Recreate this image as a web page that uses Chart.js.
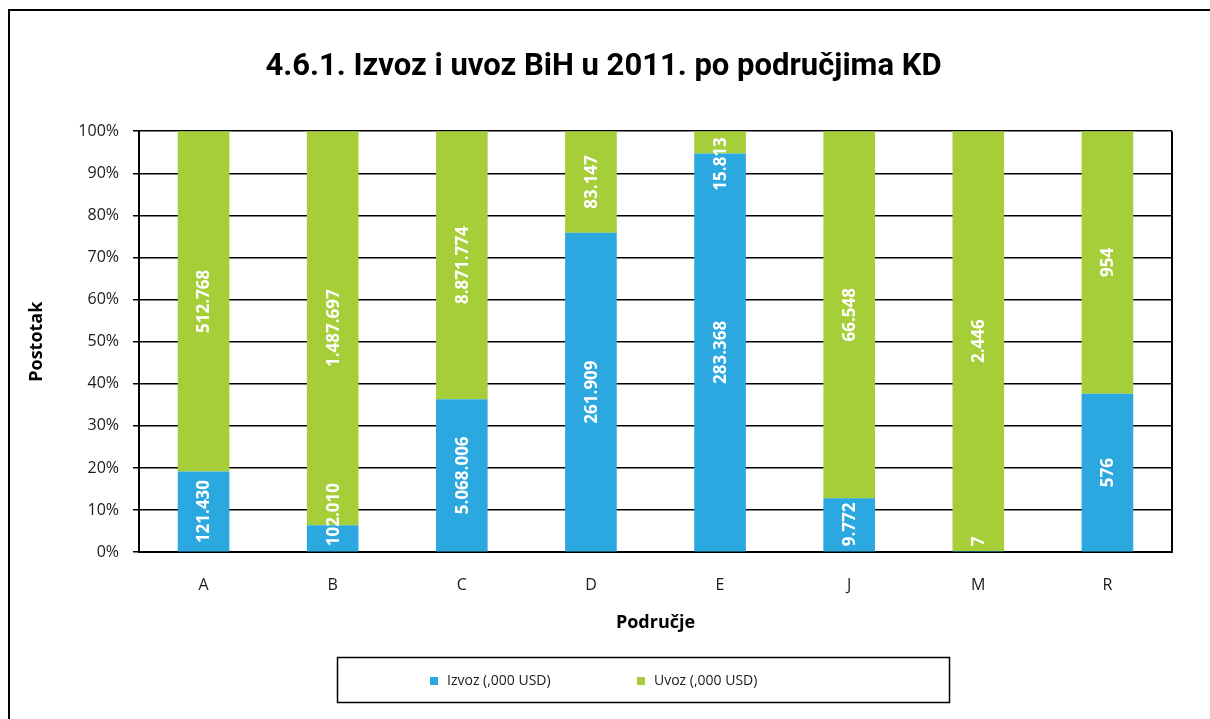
<!DOCTYPE html>
<html lang="bs">
<head>
<meta charset="UTF-8">
<title>4.6.1. Izvoz i uvoz BiH u 2011. po područjima KD</title>
<style>
    html, body { margin: 0; padding: 0; background: #fff; overflow: hidden; }
    .wrap { position: relative; width: 1210px; height: 719px; }
</style>
</head>
<body>
<div class="wrap"><canvas id="chart" width="1210" height="719"></canvas></div>
<script src="https://cdn.jsdelivr.net/npm/chart.js"></script>
<script>
    // podaci (,000 USD)
    const categories = ['A', 'B', 'C', 'D', 'E', 'J', 'M', 'R'];
    const izvoz = [121430, 102010, 5068006, 261909, 283368, 9772, 7, 576];
    const uvoz = [512768, 1487697, 8871774, 83147, 15813, 66548, 2446, 954];
    const seriesNames = ['Izvoz (,000 USD)', 'Uvoz (,000 USD)'];
    const seriesColors = ['#2CA8E0', '#A6CE39'];
    const chartTitle = '4.6.1. Izvoz i uvoz BiH u 2011. po područjima KD';

    const totals = categories.map((c, i) => izvoz[i] + uvoz[i]);
    const toPct = arr => arr.map((v, i) => v / totals[i] * 100);
    const fmt = v => String(v).replace(/\B(?=(\d{3})+(?!\d))/g, '.');

    // okvir, desna ivica grafika i okvir legende
    const framePlugin = {
        id: 'frame',
        beforeDraw(chart) {
            const ctx = chart.ctx;
            ctx.save();
            ctx.strokeStyle = '#000';
            ctx.lineWidth = 2;
            ctx.strokeRect(9, 10, 1400, 900);
            ctx.restore();
        },
        afterDraw(chart) {
            const ctx = chart.ctx;
            const a = chart.chartArea;
            ctx.save();
            ctx.strokeStyle = '#000';
            ctx.lineWidth = 2;
            ctx.beginPath();
            ctx.moveTo(a.right, a.top);
            ctx.lineTo(a.right, a.bottom);
            ctx.stroke();

            // legenda
            ctx.lineWidth = 1.5;
            ctx.strokeRect(337.5, 657.5, 612, 45);
            ctx.font = '14px "Open Sans"';
            ctx.textBaseline = 'middle';
            const itemX = [430, 637];
            seriesNames.forEach((name, i) => {
                ctx.fillStyle = seriesColors[i];
                ctx.fillRect(itemX[i], 677, 8, 8);
                ctx.fillStyle = '#1a1a1a';
                ctx.textAlign = 'left';
                ctx.fillText(name, itemX[i] + 17, 681);
            });
            ctx.restore();
        }
    };

    // vrijednosti na stupcima (rotirane)
    const barLabels = {
        id: 'barLabels',
        afterDatasetsDraw(chart) {
            const ctx = chart.ctx;
            const a = chart.chartArea;
            ctx.save();
            ctx.font = 'bold 17px "Open Sans"';
            ctx.fillStyle = '#fff';
            ctx.textAlign = 'center';
            ctx.textBaseline = 'middle';
            chart.data.datasets.forEach((ds, di) => {
                const meta = chart.getDatasetMeta(di);
                meta.data.forEach((bar, i) => {
                    const p = bar.getProps(['x', 'y', 'base'], true);
                    const text = fmt(ds.raw[i]);
                    const half = ctx.measureText(text).width / 2;
                    let cy = (p.y + p.base) / 2;
                    cy = Math.max(cy, a.top + 6 + half);
                    cy = Math.min(cy, a.bottom - 6 - half);
                    ctx.save();
                    ctx.translate(p.x + 1, cy);
                    ctx.rotate(-Math.PI / 2);
                    ctx.fillText(text, 0, 0);
                    ctx.restore();
                });
            });
            ctx.restore();
        }
    };

    new Chart(document.getElementById('chart'), {
        type: 'bar',
        data: {
            labels: categories,
            datasets: [
                { label: seriesNames[0], data: toPct(izvoz), raw: izvoz, backgroundColor: seriesColors[0] },
                { label: seriesNames[1], data: toPct(uvoz), raw: uvoz, backgroundColor: seriesColors[1] }
            ]
        },
        options: {
            responsive: false,
            animation: false,
            barPercentage: 0.4,
            categoryPercentage: 1,
            layout: { padding: { left: 35, right: 38, top: 0, bottom: 85 } },
            plugins: {
                legend: { display: false },
                tooltip: { enabled: false },
                title: {
                    display: true,
                    text: chartTitle,
                    color: '#000',
                    font: { family: 'Roboto', size: 31, weight: 'bold' },
                    padding: { top: 49, bottom: 45 }
                }
            },
            scales: {
                x: {
                    stacked: true,
                    grid: { display: false, drawTicks: false },
                    border: { display: true, color: '#000', width: 2 },
                    ticks: { color: '#1a1a1a', font: { family: 'Open Sans', size: 16 }, padding: 24 },
                    title: {
                        display: true,
                        text: 'Područje',
                        color: '#000',
                        font: { family: 'Open Sans', size: 18, weight: 'bold' },
                        padding: { top: -7, bottom: 0 }
                    }
                },
                y: {
                    stacked: true,
                    min: 0,
                    max: 100,
                    afterFit: s => { s.width = 104; },
                    grid: { color: '#000', lineWidth: 1.5, tickLength: 6 },
                    border: { display: true, color: '#000', width: 2 },
                    ticks: {
                        stepSize: 10,
                        color: '#1a1a1a',
                        font: { family: 'Open Sans', size: 16 },
                        padding: 14,
                        callback: v => v + '%'
                    },
                    title: {
                        display: true,
                        text: 'Postotak',
                        color: '#000',
                        font: { family: 'Open Sans', size: 18, weight: 'bold' },
                        padding: { top: -9, bottom: 0 }
                    }
                }
            }
        },
        plugins: [framePlugin, barLabels]
    });
</script>
</body>
</html>
